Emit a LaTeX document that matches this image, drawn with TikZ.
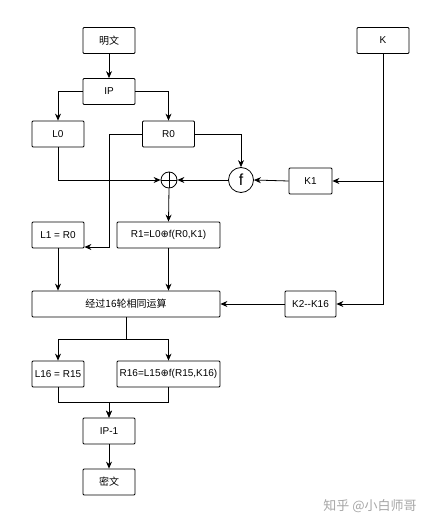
\documentclass[tikz,border=0pt]{standalone}
\usepackage{fontspec}
\setmainfont{Liberation Sans}
\newfontfamily\cjk{Noto Sans CJK SC}
\newfontfamily\djv{DejaVu Sans}
\usetikzlibrary{arrows.meta}
\begin{document}
\begin{tikzpicture}[x=1pt,y=-1pt,
  box/.style={draw,rounded corners=1pt,minimum width=52pt,minimum height=26pt,inner sep=1pt,font=\fontsize{10}{12}\selectfont,line width=0.8pt},
  arr/.style={-{Stealth[length=7pt,width=6pt]},line width=0.8pt},
  ln/.style={line width=0.8pt}]
\useasboundingbox (0,0) rectangle (430,524);
\node[box] (pt) at (109,40.5) {\cjk 明文};
\node[box] (ip) at (109,91.5) {IP};
\node[box] (l0) at (58,134) {L0};
\node[box] (r0) at (168.5,134) {R0};
\node[box] (k) at (383,40.5) {K};
\node[draw,circle,minimum size=25pt,inner sep=0pt,line width=0.8pt,font=\fontsize{16}{16}\selectfont] (f) at (241,180) {f};
\node[draw,circle,minimum size=16pt,inner sep=0pt,line width=0.8pt] (x) at (169,180) {};
\draw[ln] (x.north) -- (x.south) (x.west) -- (x.east);
\node[box,minimum width=43pt] (k1) at (310.5,181) {K1};
\node[box] (l1) at (58,235) {L1 = R0};
\node[box,minimum width=103pt] (r1) at (168.5,235) {R1=L0{\djv ⊕}f(R0,K1)};
\node[box,minimum width=188pt] (rd) at (126,304) {\cjk 经过16轮相同运算};
\node[box,minimum width=51pt] (k2) at (310.5,304) {K2-\kern0pt-K16};
\node[box] (l16) at (58,374) {L16 = R15};
\node[box,minimum width=103pt] (r16) at (168.5,374) {R16=L15{\djv ⊕}f(R15,K16)};
\node[box] (ipi) at (109,431) {IP-1};
\node[box] (ct) at (109,482) {\cjk 密文};
\node[text=black!35,font=\fontsize{13}{14}\selectfont] (wm) at (370,506) {\cjk 知乎 @小白师哥};
% connectors
\draw[arr] (pt) -- (ip);
\draw[arr] (ip.west) -| (l0.north);
\draw[arr] (ip.east) -| (r0.north);
\draw[arr] (l0.south) |- (x.west);
\draw[arr] (r0.east) -| (f.north);
\draw[arr] (f.west) -- (x.east);
\draw[arr] (k1.west) -- (f.east);
\draw[arr] (k.south) |- (k2.east);
\draw[arr] (k.south |- k1.east) -- (k1.east);
\coordinate (rc) at (109,247);
\draw[arr] (r0.west) -| (rc) -- (l1.east |- rc);
\draw[arr] (x.south) -- (r1.north);
\draw[arr] (l1.south) -- (l1.south |- rd.north);
\draw[arr] (r1.south) -- (r1.south |- rd.north);
\draw[arr] (k2.west) -- (rd.east);
\coordinate (sp) at (126,339);
\draw[ln] (rd.south) -- (sp);
\draw[arr] (sp) -| (l16.north);
\draw[arr] (sp) -| (r16.north);
\coordinate (mg) at (109,402);
\draw[arr] (l16.south) |- (mg) -- (ipi.north);
\draw[arr] (r16.south) |- (mg) -- (ipi.north);
\draw[arr] (ipi) -- (ct);
\end{tikzpicture}
\end{document}
